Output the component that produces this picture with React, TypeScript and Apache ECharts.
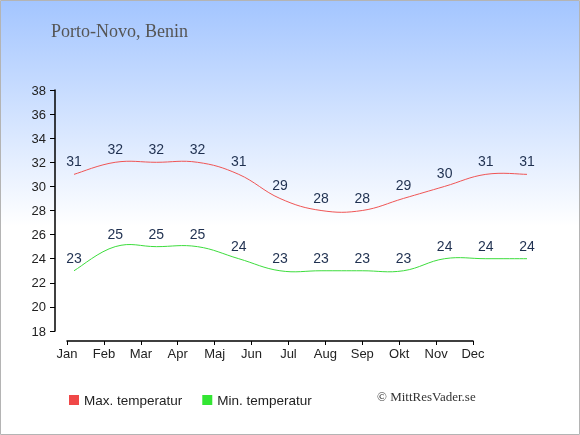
import React, { useEffect, useRef } from "react";
import * as echarts from "echarts";

const months = ["Jan", "Feb", "Mar", "Apr", "Maj", "Jun", "Jul", "Aug", "Sep", "Okt", "Nov", "Dec"];
const maxTemp = [31, 32, 32, 32, 31, 29, 28, 28, 29, 30, 31, 31];
const minTemp = [23, 25, 25, 25, 24, 23, 23, 23, 23, 24, 24, 24];
const title = "Porto-Novo, Benin";
const credit = "© MittResVader.se";
const seriesNames = ["Max. temperatur", "Min. temperatur"];

const TENSION = 0.2;

function curveSeries(values: number[], color: string, id: string) {
  return {
    id,
    type: "custom",
    xAxisIndex: 1,
    yAxisIndex: 1,
    silent: true,
    data: values.map((v, i) => [i, v]),
    encode: { x: 0, y: 1 },
    renderItem: (params: any, api: any) => {
      const i = params.dataIndex;
      const n = values.length;
      if (i >= n - 1) return null;
      const pt = (k: number) => {
        const kk = Math.max(0, Math.min(n - 1, k));
        return api.coord([kk, values[kk]]);
      };
      const p0 = pt(i - 1);
      const p1 = pt(i);
      const p2 = pt(i + 1);
      const p3 = pt(i + 2);
      return {
        type: "bezierCurve",
        shape: {
          x1: p1[0],
          y1: p1[1],
          x2: p2[0],
          y2: p2[1],
          cpx1: p1[0] + (p2[0] - p0[0]) * TENSION,
          cpy1: p1[1] + (p2[1] - p0[1]) * TENSION,
          cpx2: p2[0] - (p3[0] - p1[0]) * TENSION,
          cpy2: p2[1] - (p3[1] - p1[1]) * TENSION,
        },
        style: { stroke: color, fill: "none", lineWidth: 1 },
      };
    },
  };
}

export default function App() {
  const ref = useRef<HTMLDivElement>(null);
  useEffect(() => {
    if (!ref.current) return;
    const chart = echarts.init(ref.current, null, { renderer: "svg" });
    const labelStyle = {
      show: true,
      position: "top" as const,
      distance: 6,
      color: "#1f3050",
      fontSize: 14,
      fontFamily: "Liberation Sans, Arial, sans-serif",
    };
    chart.setOption({
      animation: false,
      graphic: [
        {
          type: "rect",
          shape: { x: 0.5, y: 0.5, width: 579, height: 434 },
          style: {
            fill: new echarts.graphic.LinearGradient(0, 0, 0, 1, [
              { offset: 0, color: "#a3c5ff" },
              { offset: 0.52, color: "#ffffff" },
              { offset: 1, color: "#ffffff" },
            ]),
            stroke: "#b4b4b4",
            lineWidth: 1,
          },
          z: -10,
          silent: true,
        },
        {
          type: "text",
          left: 51,
          top: 22,
          style: {
            text: title,
            fill: "#555555",
            font: "18px 'Liberation Serif', 'Times New Roman', serif",
          },
        },
        {
          type: "text",
          left: 377,
          top: 390,
          style: {
            text: credit,
            fill: "#333333",
            font: "13px 'Liberation Serif', 'Times New Roman', serif",
          },
        },
      ],
      legend: {
        left: 69,
        top: 393,
        padding: 0,
        itemWidth: 10,
        itemHeight: 10,
        itemGap: 20,
        icon: "rect",
        data: seriesNames,
        textStyle: {
          fontSize: 13.5,
          color: "#222222",
          fontFamily: "Liberation Sans, Arial, sans-serif",
        },
      },
      grid: [
        { left: 67, right: 107, top: 90, bottom: 104 },
        { left: 74, right: 53, top: 90, bottom: 104 },
      ],
      xAxis: [
        {
          type: "category",
          gridIndex: 0,
          data: months,
          boundaryGap: false,
          offset: 10,
          axisLine: { lineStyle: { color: "#000", width: 1.5 } },
          axisTick: { length: 4, lineStyle: { color: "#000" } },
          axisLabel: {
            color: "#222",
            fontSize: 13,
            margin: 6,
            fontFamily: "Liberation Sans, Arial, sans-serif",
          },
          splitLine: { show: false },
        },
        {
          type: "category",
          gridIndex: 1,
          data: months,
          boundaryGap: false,
          show: false,
        },
      ],
      yAxis: [
        {
          type: "value",
          gridIndex: 0,
          min: 18,
          max: 38,
          interval: 2,
          offset: 12,
          axisLine: { show: true, lineStyle: { color: "#000", width: 1.5 } },
          axisTick: { show: true, length: 5, lineStyle: { color: "#000" } },
          axisLabel: {
            color: "#222",
            fontSize: 13,
            margin: 9,
            fontFamily: "Liberation Sans, Arial, sans-serif",
          },
          splitLine: { show: false },
        },
        {
          type: "value",
          gridIndex: 1,
          min: 18,
          max: 38,
          interval: 2,
          show: false,
          splitLine: { show: false },
        },
      ],
      series: [
        {
          name: seriesNames[0],
          type: "line",
          xAxisIndex: 1,
          yAxisIndex: 1,
          data: maxTemp,
          symbol: "circle",
          symbolSize: 0,
          showSymbol: true,
          itemStyle: { color: "#f04848" },
          lineStyle: { color: "#f05555", width: 1, opacity: 0 },
          label: labelStyle,
        },
        {
          name: seriesNames[1],
          type: "line",
          xAxisIndex: 1,
          yAxisIndex: 1,
          data: minTemp,
          symbol: "circle",
          symbolSize: 0,
          showSymbol: true,
          itemStyle: { color: "#33e633" },
          lineStyle: { color: "#3ddd3d", width: 1, opacity: 0 },
          label: labelStyle,
        },
        curveSeries(maxTemp, "#f05555", "maxCurve"),
        curveSeries(minTemp, "#3ddd3d", "minCurve"),
      ],
    });
    return () => chart.dispose();
  }, []);
  return (
    <div
      ref={ref}
      style={{ position: "fixed", left: 0, top: 0, width: 580, height: 435 }}
    />
  );
}
